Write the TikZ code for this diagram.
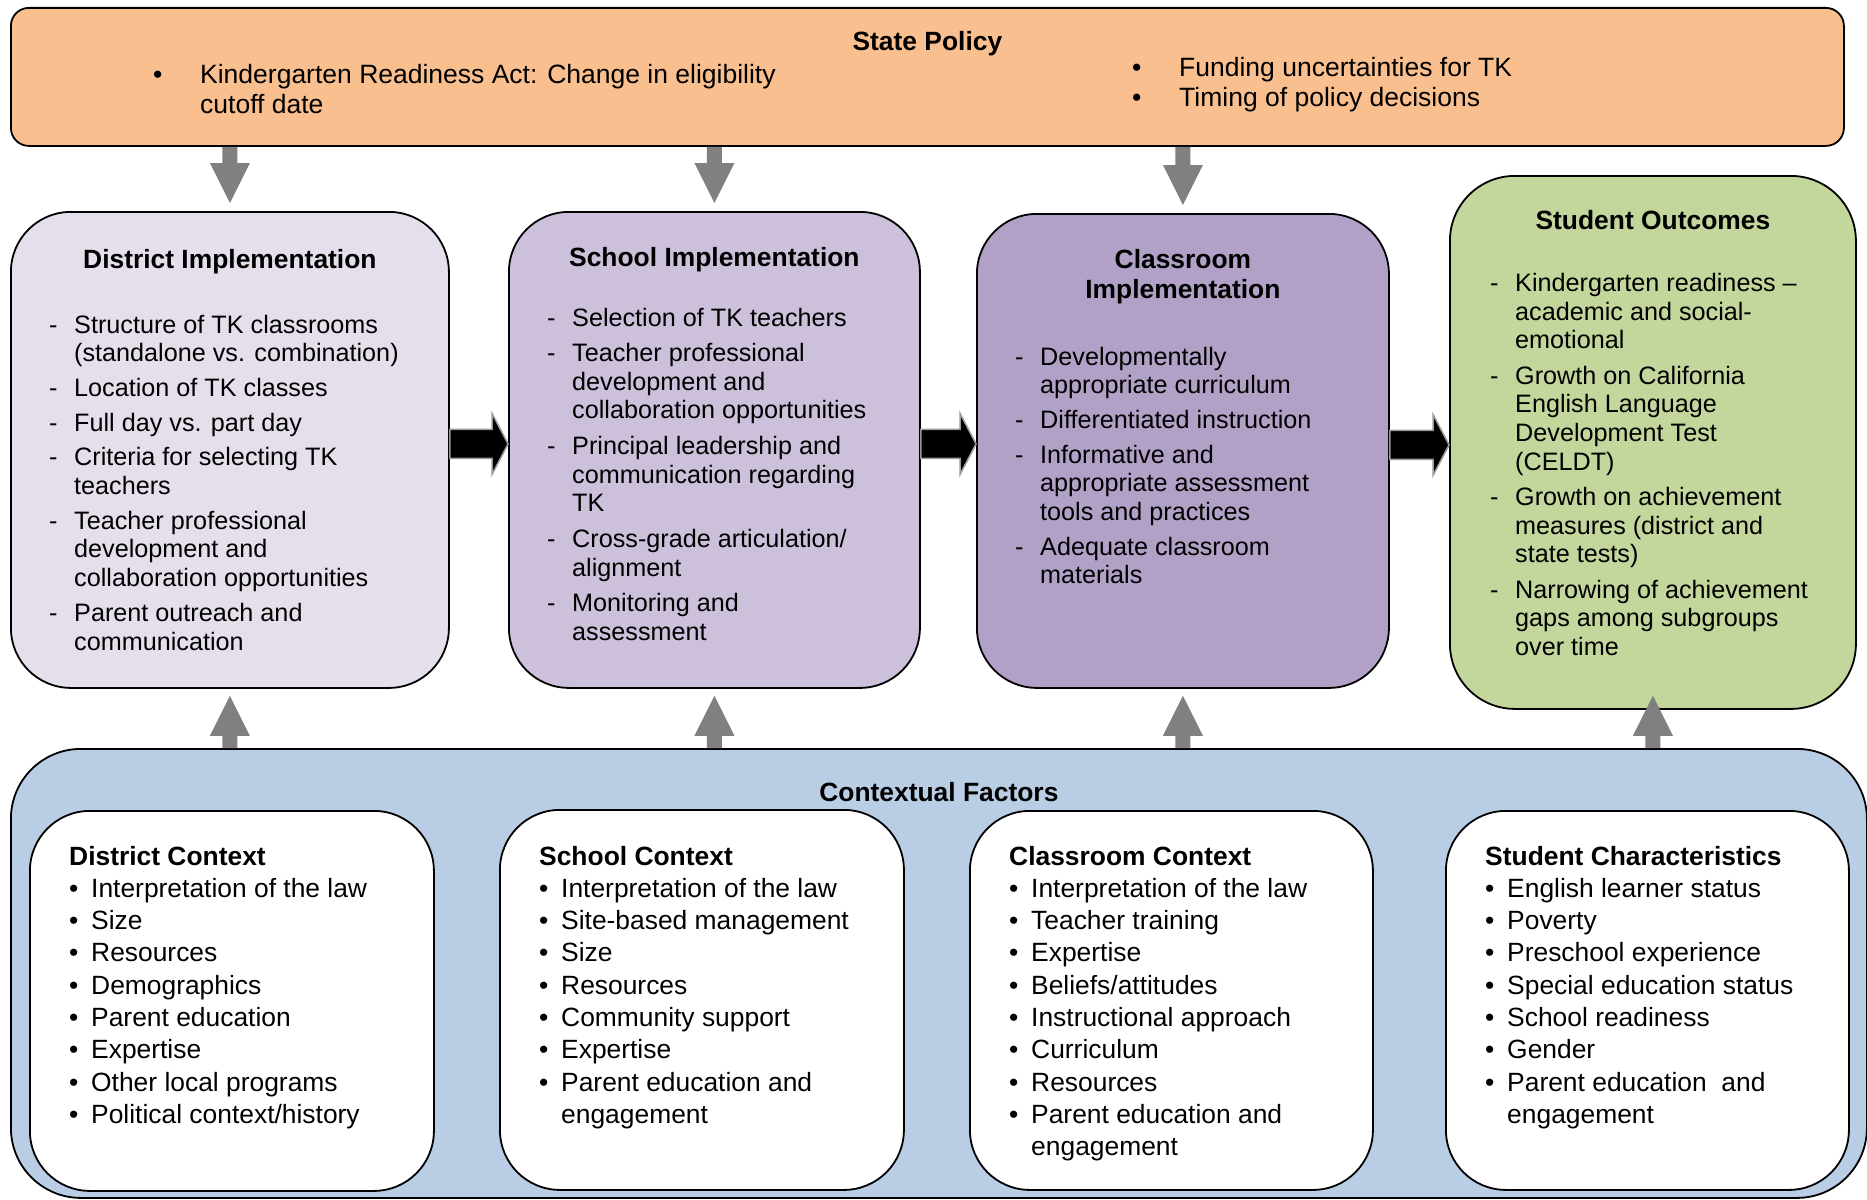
\documentclass[tikz,border=0pt]{standalone}
\usepackage{fontspec}
\setmainfont{Liberation Sans}
\usetikzlibrary{positioning, calc}

\definecolor{policyorange}{RGB}{250,191,143}
\definecolor{districtlilac}{RGB}{229,223,236}
\definecolor{schoollilac}{RGB}{204,192,218}
\definecolor{classlilac}{RGB}{178,161,199}
\definecolor{outcomegreen}{RGB}{195,214,155}
\definecolor{contextblue}{RGB}{185,205,229}
\definecolor{flowgray}{RGB}{128,128,128}

\tikzset{
  stagebox/.style={draw=black, line width=1.8pt, rounded corners=60pt, inner sep=0pt, anchor=north west},
  headtext/.style={inner sep=0pt, anchor=base, font=\fontsize{26.4}{30}\selectfont\bfseries},
  itemtext/.style={inner sep=0pt, anchor=base west, font=\fontsize{25.2}{28.7}\selectfont},
  ctxtext/.style={inner sep=0pt, anchor=base west, font=\fontsize{26.4}{32.3}\selectfont},
  policytext/.style={inner sep=0pt, anchor=base west, font=\fontsize{26.5}{30}\selectfont},
  blockarrow/.style={fill=black, draw=flowgray!80, line width=1.5pt},
}

\newcommand{\dashlist}[1]{\begin{tabular}[t]{@{}p{25pt}@{}l@{}}#1\end{tabular}}
\newcommand{\dotlist}[1]{\begin{tabular}[t]{@{}p{22pt}@{}l@{}}#1\end{tabular}}

% black block arrow between two neighbouring boxes
\newcommand{\flowright}[2]{%
  \coordinate (fa) at ($(#1.east)+(0,-6)$);
  \coordinate (fb) at (#2.west |- fa);
  \filldraw[blockarrow] ($(fa)+(0,-14.5)$) -- ($(fb)+(-16,-14.5)$) -- ($(fb)+(-16,-30.5)$)
    -- (fb) -- ($(fb)+(-16,30.5)$) -- ($(fb)+(-16,14.5)$) -- ($(fa)+(0,14.5)$) -- cycle;}

% gray arrow, #3=1 points down, #3=-1 points up
\newcommand{\flowvert}[3]{%
  \fill[flowgray] ($(#1)+(-7.5,0)$) -- ($(#2)+(-7.5,{-40*#3})$) -- ($(#2)+(-20,{-40*#3})$)
    -- (#2) -- ($(#2)+(20,{-40*#3})$) -- ($(#2)+(7.5,{-40*#3})$) -- ($(#1)+(7.5,0)$) -- cycle;}

\begin{document}
\begin{tikzpicture}[x=1pt, y=-1pt]
	\useasboundingbox (0,0) rectangle (1867,1199);

	% state policy
	\node[stagebox, rounded corners=18pt, fill=policyorange, minimum width=1833pt, minimum height=138pt] (stpol) at (10,7) {};
	\node[headtext] (stpolt) at ($(stpol.north)+(0,44)$) {State Policy};
	\node[policytext] (stpoll) at ($(stpol.north west)+(143,76)$)
		{\begin{tabular}[t]{@{}p{47pt}@{}l@{}}• & Kindergarten Readiness Act: Change in eligibility\\ & cutoff date\end{tabular}};
	\node[policytext] (stpolr) at ($(stpol.north west)+(1122,69)$)
		{\begin{tabular}[t]{@{}p{47pt}@{}l@{}}• & Funding uncertainties for TK\\ • & Timing of policy decisions\end{tabular}};

	% implementation boxes
	\node[stagebox, fill=districtlilac, minimum width=438pt, minimum height=476pt] (dimp) at (10,211) {};
	\node[stagebox, fill=schoollilac, minimum width=411pt, minimum height=476pt] (simp) at (508,211) {};
	\node[stagebox, fill=classlilac, minimum width=412pt, minimum height=474pt] (cimp) at (976,213) {};
	\node[stagebox, fill=outcomegreen, rounded corners=65pt, minimum width=406pt, minimum height=533pt] (souc) at (1449,175) {};

	\node[headtext] (dimpt) at ($(dimp.north)+(0,57)$) {District Implementation};
	\node[headtext] (simpt) at ($(simp.north)+(0,55)$) {School Implementation};
	\node[headtext] (cimpt) at ($(cimp.north)+(0,55)$) {\begin{tabular}[t]{@{}c@{}}Classroom\\Implementation\end{tabular}};
	\node[headtext] (souct) at ($(souc.north)+(0,54.5)$) {Student Outcomes};

	\node[itemtext] (dimpl) at ($(dimp.north west)+(39,122)$) {\dashlist{%
		- & Structure of TK classrooms\\ & (standalone vs. combination)\\[6pt]
		- & Location of TK classes\\[6pt]
		- & Full day vs. part day\\[6pt]
		- & Criteria for selecting TK\\ & teachers\\[6pt]
		- & Teacher professional\\ & development and\\ & collaboration opportunities\\[6pt]
		- & Parent outreach and\\ & communication}};
	\node[itemtext] (simpl) at ($(simp.north west)+(39,115)$) {\dashlist{%
		- & Selection of TK teachers\\[6.8pt]
		- & Teacher professional\\ & development and\\ & collaboration opportunities\\[6.8pt]
		- & Principal leadership and\\ & communication regarding\\ & TK\\[6.8pt]
		- & Cross-grade articulation/\\ & alignment\\[6.8pt]
		- & Monitoring and\\ & assessment}};
	\node[itemtext] (cimpl) at ($(cimp.north west)+(39,152)$) {\dashlist{%
		- & Developmentally\\ & appropriate curriculum\\[6pt]
		- & Differentiated instruction\\[6pt]
		- & Informative and\\ & appropriate assessment\\ & tools and practices\\[6pt]
		- & Adequate classroom\\ & materials}};
	\node[itemtext] (soucl) at ($(souc.north west)+(41,116.5)$) {\dashlist{%
		- & Kindergarten readiness –\\ & academic and social-\\ & emotional\\[6.5pt]
		- & Growth on California\\ & English Language\\ & Development Test\\ & (CELDT)\\[6.5pt]
		- & Growth on achievement\\ & measures (district and\\ & state tests)\\[6.5pt]
		- & Narrowing of achievement\\ & gaps among subgroups\\ & over time}};

	% contextual factors
	\node[stagebox, rounded corners=70pt, fill=contextblue, minimum width=1856pt, minimum height=449pt] (ctx) at (10,748) {};
	\node[headtext] (ctxt) at ($(ctx.north)+(0,53)$) {Contextual Factors};

	\node[stagebox, fill=white, minimum width=404pt, minimum height=380pt] (dctx) at (29,810) {};
	\node[stagebox, fill=white, minimum width=404pt, minimum height=380pt] (sctx) at (499,809) {};
	\node[stagebox, fill=white, minimum width=403pt, minimum height=379pt] (cctx) at (969,810) {};
	\node[stagebox, fill=white, minimum width=403pt, minimum height=379pt] (stch) at (1445,810) {};

	\node[ctxtext] (dctxl) at ($(dctx.north west)+(40,55)$) {\dotlist{%
		\multicolumn{2}{@{}l@{}}{\bfseries District Context}\\
		• & Interpretation of the law\\ • & Size\\ • & Resources\\ • & Demographics\\
		• & Parent education\\ • & Expertise\\ • & Other local programs\\ • & Political context/history}};
	\node[ctxtext] (sctxl) at ($(sctx.north west)+(40,56)$) {\dotlist{%
		\multicolumn{2}{@{}l@{}}{\bfseries School Context}\\
		• & Interpretation of the law\\ • & Site-based management\\ • & Size\\ • & Resources\\
		• & Community support\\ • & Expertise\\ • & Parent education and\\ & engagement}};
	\node[ctxtext] (cctxl) at ($(cctx.north west)+(40,55)$) {\dotlist{%
		\multicolumn{2}{@{}l@{}}{\bfseries Classroom Context}\\
		• & Interpretation of the law\\ • & Teacher training\\ • & Expertise\\ • & Beliefs/attitudes\\
		• & Instructional approach\\ • & Curriculum\\ • & Resources\\ • & Parent education and\\ & engagement}};
	\node[ctxtext] (stchl) at ($(stch.north west)+(40,55)$) {\dotlist{%
		\multicolumn{2}{@{}l@{}}{\bfseries Student Characteristics}\\
		• & English learner status\\ • & Poverty\\ • & Preschool experience\\ • & Special education status\\
		• & School readiness\\ • & Gender\\ • & Parent education~ and\\ & engagement}};

	% arrows
	\flowright{dimp}{simp}
	\flowright{simp}{cimp}
	\flowright{cimp}{souc}
	\foreach \b in {dimp, simp, cimp} {
		\coordinate (vt) at (\b.north |- stpol.south);
		\coordinate (vh) at ($(\b.north)+(0,-8)$);
		\flowvert{vt}{vh}{1}
	}
	\foreach \b/\o in {dimp/7, simp/7, cimp/7, souc/-14} {
		\coordinate (vt) at (\b.south |- ctx.north);
		\coordinate (vh) at ($(\b.south)+(0,\o)$);
		\flowvert{vt}{vh}{-1}
	}
\end{tikzpicture}
\end{document}
